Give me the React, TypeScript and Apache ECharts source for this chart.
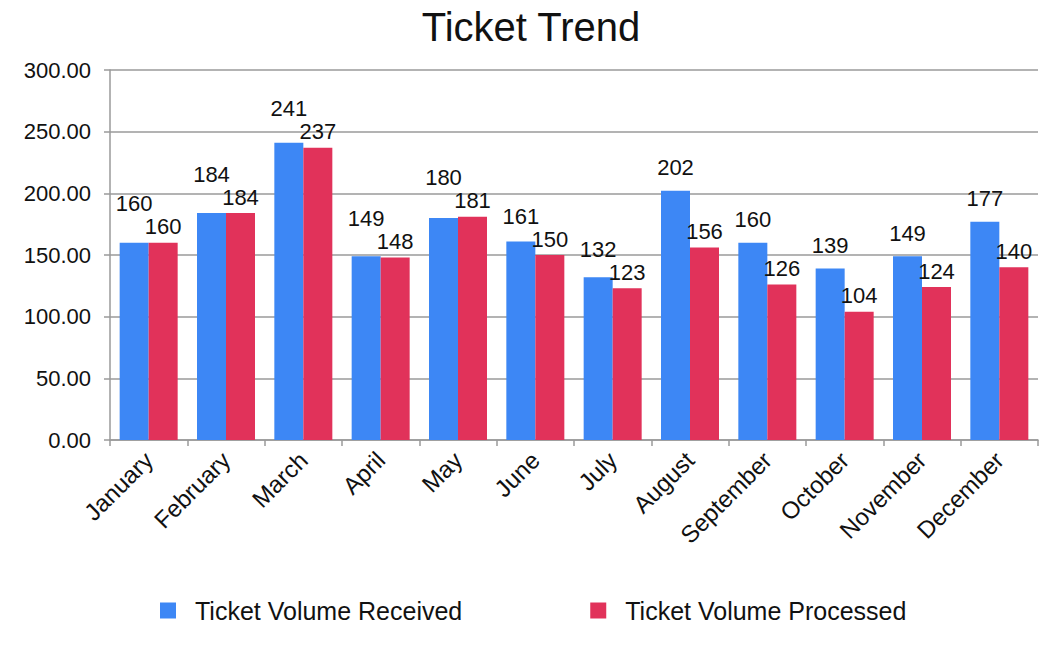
import React, { useEffect, useRef } from "react";
import * as echarts from "echarts";

const months = ["January", "February", "March", "April", "May", "June", "July", "August", "September", "October", "November", "December"];
const received = [160, 184, 241, 149, 180, 161, 132, 202, 160, 139, 149, 177];
const processed = [160, 184, 237, 148, 181, 150, 123, 156, 126, 104, 124, 140];
const seriesNames = ["Ticket Volume Received", "Ticket Volume Processed"];

const FONT = "Liberation Sans, Arial, Helvetica, sans-serif";
const RED_DIST = 5;
const BLUE_DIST = 12;

export default function App() {
  const ref = useRef<HTMLDivElement>(null);
  useEffect(() => {
    if (!ref.current) return;
    const chart = echarts.init(ref.current, null, { renderer: "svg" });

    // Lift a "received" label above the neighbouring "processed" label when they would collide.
    const blueLayout = (params: any) => {
      const i = params.dataIndex;
      const rect = params.rect;
      const lr = params.labelRect;
      if (!rect || !lr || !received[i]) return {};
      const pxPerUnit = rect.height / received[i];
      const baseY = rect.y + rect.height;
      const redTop = baseY - processed[i] * pxPerUnit;
      const redLabelTop = redTop - RED_DIST - lr.height;
      const maxBottom = redLabelTop - 1;
      const curBottom = lr.y + lr.height;
      if (curBottom > maxBottom) {
        return { dy: maxBottom - curBottom };
      }
      return {};
    };

    chart.setOption({
      animation: false,
      backgroundColor: "#ffffff",
      textStyle: { fontFamily: FONT },
      title: {
        text: "Ticket Trend",
        left: "center",
        top: 2,
        textStyle: { fontFamily: FONT, fontSize: 40, fontWeight: "normal", color: "#111" },
      },
      legend: {
        bottom: 18,
        left: 155,
        itemWidth: 16,
        itemHeight: 16,
        itemGap: 128,
        icon: "rect",
        textStyle: { fontFamily: FONT, fontSize: 25, color: "#111", padding: [0, 0, 0, 14] },
        data: seriesNames,
      },
      grid: { left: 110, right: 24, top: 70, bottom: 206, containLabel: false },
      xAxis: {
        type: "category",
        data: months,
        axisLine: { show: true, lineStyle: { color: "#9a9a9a", width: 1.5 } },
        axisTick: { show: true, length: 6, alignWithLabel: false, lineStyle: { color: "#9a9a9a", width: 1.5 } },
        axisLabel: { rotate: 45, fontSize: 24, color: "#111", fontFamily: FONT, margin: 16, interval: 0 },
      },
      yAxis: {
        type: "value",
        min: 0,
        max: 300,
        interval: 50,
        axisLine: { show: true, lineStyle: { color: "#9a9a9a", width: 1.5 } },
        axisTick: { show: true, length: 6, lineStyle: { color: "#9a9a9a", width: 1.5 } },
        splitLine: { show: true, lineStyle: { color: "#9a9a9a", width: 1.5 } },
        axisLabel: {
          fontSize: 22,
          color: "#111",
          fontFamily: FONT,
          margin: 19,
          formatter: (v: number) => v.toFixed(2),
        },
      },
      series: [
        {
          name: seriesNames[0],
          type: "bar",
          data: received,
          barGap: "0%",
          barCategoryGap: "25%",
          itemStyle: { color: "#3d87f5" },
          label: { show: true, position: "top", distance: BLUE_DIST, fontSize: 22, color: "#111", fontFamily: FONT },
          labelLayout: blueLayout,
        },
        {
          name: seriesNames[1],
          type: "bar",
          data: processed,
          barGap: "0%",
          barCategoryGap: "25%",
          itemStyle: { color: "#e1325a" },
          label: { show: true, position: "top", distance: RED_DIST, fontSize: 22, color: "#111", fontFamily: FONT },
        },
      ],
    });
    return () => chart.dispose();
  }, []);
  return <div ref={ref} style={{ position: "absolute", left: 0, top: 0, width: 1062, height: 646 }} />;
}
